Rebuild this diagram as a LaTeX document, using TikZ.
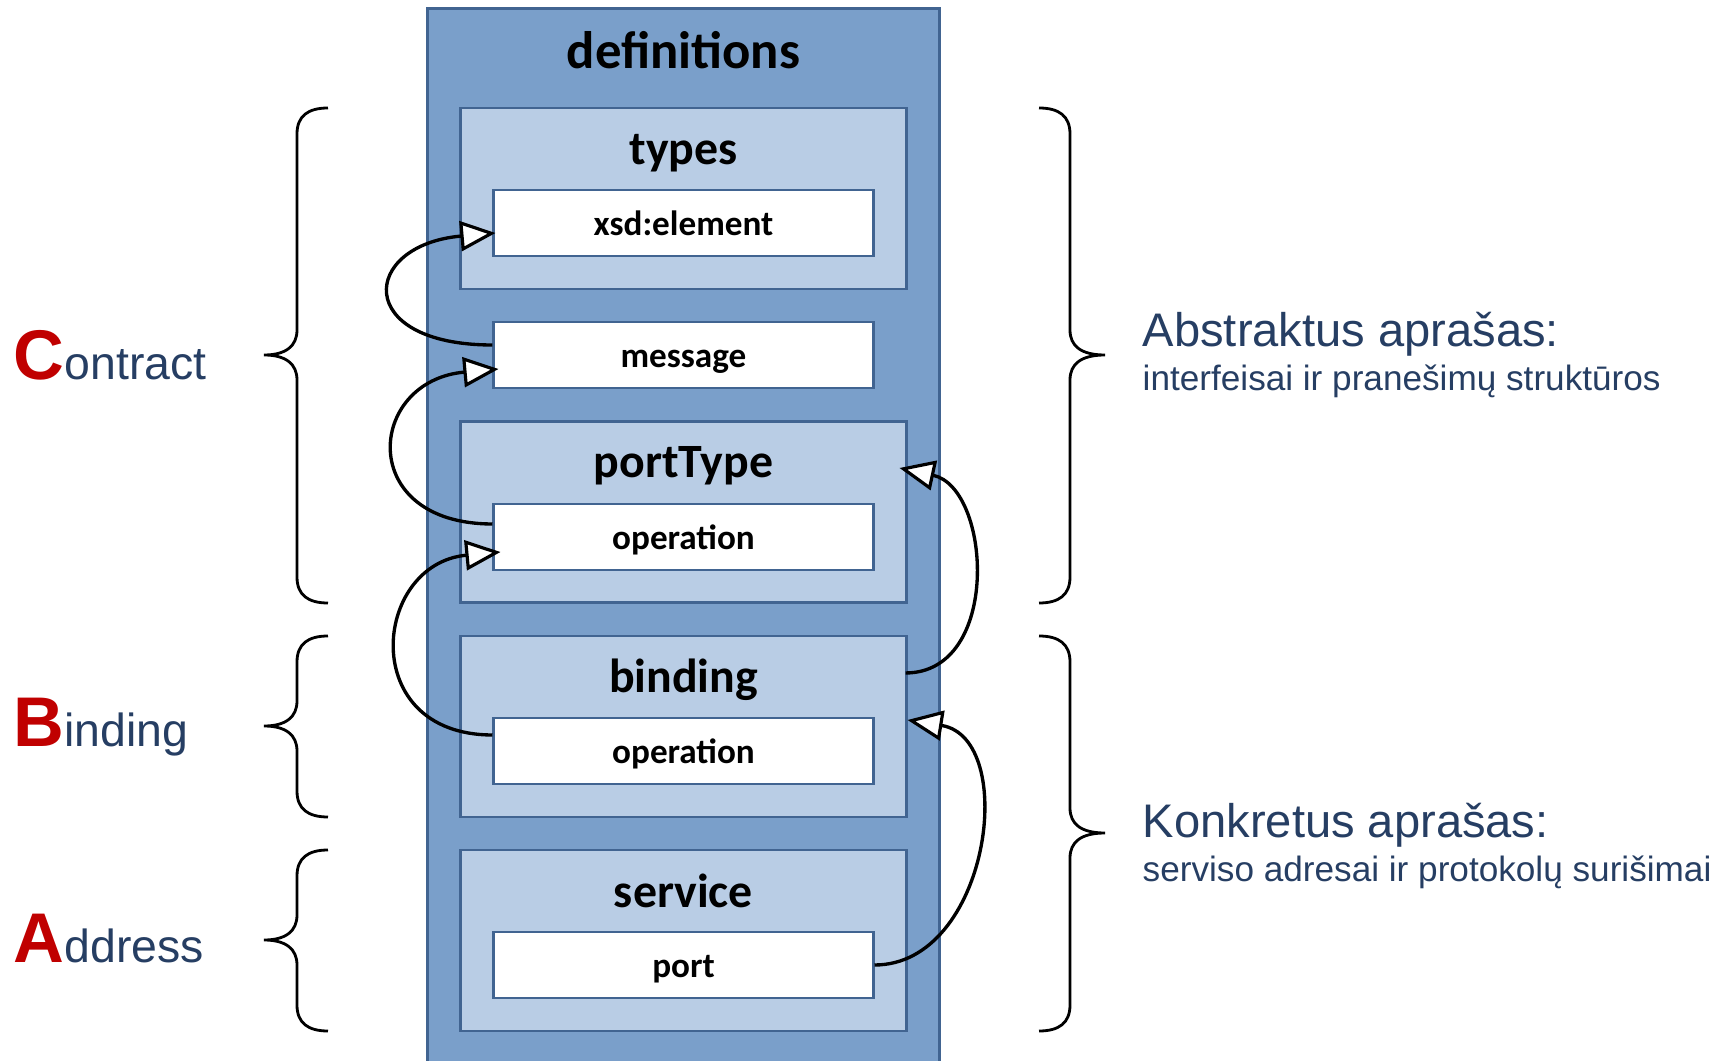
\documentclass[tikz,border=0pt]{standalone}
\usepackage{fontspec}
\setmainfont{Liberation Sans}
\newfontfamily\calfont{Carlito}
\usetikzlibrary{arrows.meta,positioning,calc}
\definecolor{defblue}{RGB}{122,159,202}
\definecolor{secblue}{RGB}{185,205,229}
\definecolor{edgeblue}{RGB}{65,100,145}
\definecolor{txtblue}{RGB}{38,62,99}
\definecolor{letterred}{RGB}{192,0,0}

\begin{document}
\begin{tikzpicture}[x=0.01cm,y=-0.01cm,
	defbox/.style={draw=edgeblue,fill=defblue,line width=0.8pt,minimum width=5.11cm,minimum height=10.72cm,inner sep=0pt},
	sect/.style={draw=edgeblue,fill=secblue,line width=0.8pt,minimum width=4.45cm,minimum height=1.81cm,inner sep=0pt},
	elem/.style={draw=edgeblue,fill=white,line width=0.8pt,minimum width=3.79cm,minimum height=0.66cm,inner sep=0pt,
		text height=1.6ex,text depth=0.3ex,font=\calfont\bfseries\fontsize{10}{12}\selectfont},
	heading/.style={anchor=base,inner sep=0pt,font=\calfont\bfseries\fontsize{13.6}{17}\selectfont},
	side/.style={anchor=base west,inner sep=0pt,text=txtblue},
	ref/.style={line width=0.95pt,-{Triangle[fill=white,length=10pt,width=8.5pt,line width=0.9pt]}},
	curly/.style={line width=0.8pt}]
	\useasboundingbox (0,0) rectangle (1724,1061);
	
	% the definitions element
	\node[defbox] (defs) at (683.5,545) {};
	\node[heading,font=\calfont\bfseries\fontsize{15}{18}\selectfont] (defsT) at (683.5,69) {definitions};
	
	\node[sect] (types) at (683.5,198.5) {};
	\node[heading] (typesT) at (683.5,165) {types};
	\node[elem] (xsd) at (683.5,223) {xsd:element};
	
	\node[elem] (msg) at (683.5,355) {message};
	
	\node[sect] (porttype) at (683.5,512) {};
	\node[heading] (porttypeT) at (683.5,478) {portType};
	\node[elem] (op1) at (683.5,537) {operation};
	
	\node[sect] (binding) at (683.5,726.5) {};
	\node[heading] (bindingT) at (683.5,692) {binding};
	\node[elem] (op2) at (683.5,751) {operation};
	
	\node[sect] (service) at (683.5,940.5) {};
	\node[heading] (serviceT) at (683.5,907) {service};
	\node[elem] (port) at (683.5,965) {port};
	
	% references
	\draw[ref] ([yshift=0.1cm]msg.west) .. controls +(-140,0) and +(-135,12) .. ([xshift=0.03cm,yshift=-0.1cm]xsd.west);
	\draw[ref] ([yshift=0.13cm]op1.west) .. controls +(-137,0) and +(-132,12) .. ([xshift=0.06cm,yshift=-0.14cm]msg.west);
	\draw[ref] ([yshift=0.16cm]op2.west) .. controls +(-136,0) and +(-128,12) .. ([xshift=0.08cm,yshift=-0.15cm]op1.west);
	\draw[ref] ([xshift=-0.02cm,yshift=0.535cm]binding.east) .. controls +(96,0) and +(92,20) .. ([xshift=-0.08cm,yshift=0.44cm]porttype.east);
	\draw[ref] (port.east) .. controls +(115,0) and +(112,18) .. ([yshift=0.065cm]binding.east);
	
	% left braces
	\draw[curly] (328,108) .. controls (308,108) and (297,116) .. (297,134) -- (297,330) .. controls (297,346) and (286,355) .. (264,355)
		.. controls (286,355) and (297,364) .. (297,380) -- (297,577) .. controls (297,595) and (308,603) .. (328,603);
	\draw[curly] (328,636) .. controls (308,636) and (297,644) .. (297,662) -- (297,701) .. controls (297,717) and (286,726) .. (264,726)
		.. controls (286,726) and (297,735) .. (297,751) -- (297,791) .. controls (297,809) and (308,817) .. (328,817);
	\draw[curly] (328,850) .. controls (308,850) and (297,858) .. (297,876) -- (297,915) .. controls (297,931) and (286,940) .. (264,940)
		.. controls (286,940) and (297,949) .. (297,965) -- (297,1005) .. controls (297,1023) and (308,1031) .. (328,1031);
	
	% right braces
	\draw[curly] (1039,108) .. controls (1059,108) and (1070,116) .. (1070,134) -- (1070,330) .. controls (1070,346) and (1081,355) .. (1105,355)
		.. controls (1081,355) and (1070,364) .. (1070,380) -- (1070,577) .. controls (1070,595) and (1059,603) .. (1039,603);
	\draw[curly] (1039,636) .. controls (1059,636) and (1070,644) .. (1070,662) -- (1070,808) .. controls (1070,824) and (1081,833) .. (1105,833)
		.. controls (1081,833) and (1070,842) .. (1070,858) -- (1070,1005) .. controls (1070,1023) and (1059,1031) .. (1039,1031);
	
	% labels
	\node[side,font=\fontsize{13.2}{16}\selectfont] (contract) at (13,380) {{\color{letterred}\bfseries\fontsize{20}{20}\selectfont C}ontract};
	\node[side,font=\fontsize{13.2}{16}\selectfont] (bind) at (13,746) {{\color{letterred}\bfseries\fontsize{20}{20}\selectfont B}inding};
	\node[side,font=\fontsize{13.2}{16}\selectfont] (address) at (13,962) {{\color{letterred}\bfseries\fontsize{20}{20}\selectfont A}ddress};
	
	\node[side,font=\fontsize{13.4}{16}\selectfont] (absT) at (1142,347) {Abstraktus aprašas:};
	\node[side,font=\fontsize{10}{12}\selectfont] (absS) at (1142,391) {interfeisai ir pranešimų struktūros};
	\node[side,font=\fontsize{13.4}{16}\selectfont] (konT) at (1142,837) {Konkretus aprašas:};
	\node[side,font=\fontsize{10}{12}\selectfont] (konS) at (1142,881) {serviso adresai ir protokolų surišimai};
\end{tikzpicture}
\end{document}
